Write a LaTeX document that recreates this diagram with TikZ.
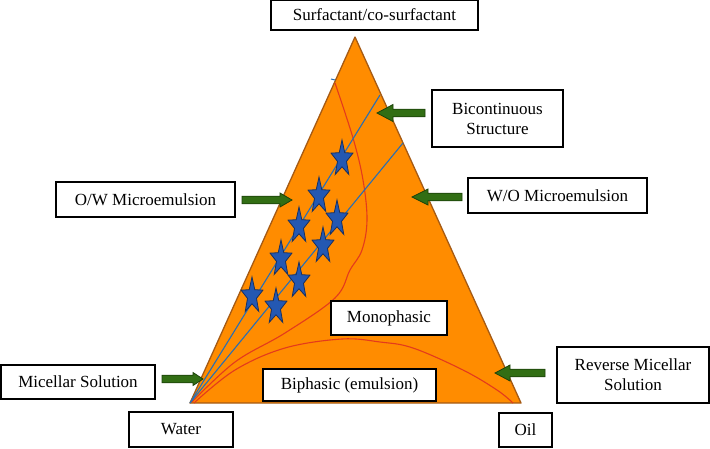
\documentclass[tikz,border=0pt]{standalone}
\usepackage{fontspec}
\setmainfont{Liberation Serif}
\usetikzlibrary{calc}
\definecolor{triorange}{RGB}{255,140,0}
\definecolor{triborder}{RGB}{165,90,20}
\definecolor{curvered}{RGB}{228,58,28}
\definecolor{lineblue}{RGB}{40,110,180}
\definecolor{starblue}{RGB}{36,88,178}
\definecolor{starline}{RGB}{24,48,96}
\definecolor{arrgreen}{RGB}{50,110,20}
\definecolor{arrline}{RGB}{28,66,10}
\tikzset{
  lbl/.style={draw=black, line width=1.2pt, fill=white, inner sep=0pt,
    font=\fontsize{17}{20}\selectfont, align=center},
  redcurve/.style={curvered, line width=1.1pt},
  blueline/.style={lineblue, line width=1.1pt},
  bstar/.pic={
    \filldraw[fill=starblue, draw=starline, line width=0.8pt]
      (0,-19) foreach \k [evaluate=\k as \r using {ifthenelse(mod(\k,2)==1,0.41,1)}] in {1,...,9}
      { -- ({11.5*\r*cos(-90+36*\k)},{19*\r*sin(-90+36*\k)}) } -- cycle;
  }
}
% green block arrow: tail, tip, head length, head half-width
\newcommand\garrow[4]{%
  \coordinate (hb) at ($(#2)!#3!(#1)$);
  \filldraw[fill=arrgreen, draw=arrline, line width=0.8pt, line join=miter]
    ($(#1)!3.8pt!90:(#2)$) -- ($(hb)!3.8pt!90:(#2)$) -- ($(hb)!#4!90:(#2)$)
    -- (#2) -- ($(hb)!#4!-90:(#2)$) -- ($(hb)!3.8pt!-90:(#2)$)
    -- ($(#1)!3.8pt!-90:(#2)$) -- cycle;
}
\begin{document}
\begin{tikzpicture}[x=1pt,y=-1pt]
\useasboundingbox (0,0) rectangle (710,448);
% triangle
\coordinate (top) at (355,37);
\coordinate (water) at (190,403);
\coordinate (oil) at (521,403);
\filldraw[fill=triorange, draw=triborder, line width=1.3pt, line join=round] (top) -- (oil) -- (water) -- cycle;
% red phase boundaries
\draw[redcurve] plot[smooth, tension=0.6] coordinates
  {(335,83) (353,138) (363,180) (367,220) (362,250) (350,270) (335,298) (285,333) (235,362) (192,402)};
\draw[redcurve] plot[smooth, tension=0.6] coordinates
  {(194,403) (235,370) (285,348) (342,339) (380,342) (413,348) (463,370) (497,390) (513,403)};
\draw[lineblue, line width=1pt] (331,79) -- (335,80);
% blue dilution lines
\coordinate (b1) at (380,95);
\coordinate (b2) at (403,143);
\draw[blueline] (water) -- (b1);
\draw[blueline] (water) -- (b2);
% stars
\foreach \p in {(342,159),(319,196),(337,219),(299,226),(323,246),(281,259),(299,281),(252,296),(276,307)}
  \pic at \p {bstar};
% labels
\node[lbl, minimum width=207pt, minimum height=30pt] (surf) at (374.5,15) {Surfactant/co-surfactant};
\node[lbl, minimum width=131pt, minimum height=57pt] (bic) at (497.5,118.5) {Bicontinuous\\Structure};
\node[lbl, minimum width=179pt, minimum height=35pt] (wo) at (557.5,195.5) {W/O Microemulsion};
\node[lbl, minimum width=179pt, minimum height=35pt] (ow) at (145.5,199.5) {O/W Microemulsion};
\node[lbl, minimum width=154pt, minimum height=34pt] (mic) at (78,382) {Micellar Solution};
\node[lbl, minimum width=104pt, minimum height=35pt] (wat) at (181,429.5) {Water};
\node[lbl, minimum width=152pt, minimum height=56pt] (rev) at (633,375) {Reverse Micellar\\Solution};
\node[lbl, minimum width=53pt, minimum height=34pt] (oilb) at (525.5,430) {Oil};
\node[lbl, minimum width=116pt, minimum height=34pt] (mono) at (389,318) {Monophasic};
\node[lbl, minimum width=173pt, minimum height=32pt] (biph) at (349.5,385) {Biphasic (emulsion)};
% arrows
\coordinate (bicT) at (425,113); \coordinate (bicH) at (377,113);
\coordinate (woT) at (462,197);  \coordinate (woH) at (412,197);
\coordinate (owT) at (242,200);  \coordinate (owH) at (292,200);
\coordinate (micT) at (162,379); \coordinate (micH) at (203,379);
\coordinate (revT) at (545,373); \coordinate (revH) at (495,373);
\garrow{bicT}{bicH}{16pt}{8.5pt}
\garrow{woT}{woH}{16pt}{8pt}
\garrow{owT}{owH}{12pt}{7pt}
\garrow{micT}{micH}{10pt}{6.5pt}
\garrow{revT}{revH}{15pt}{8pt}
\end{tikzpicture}
\end{document}
